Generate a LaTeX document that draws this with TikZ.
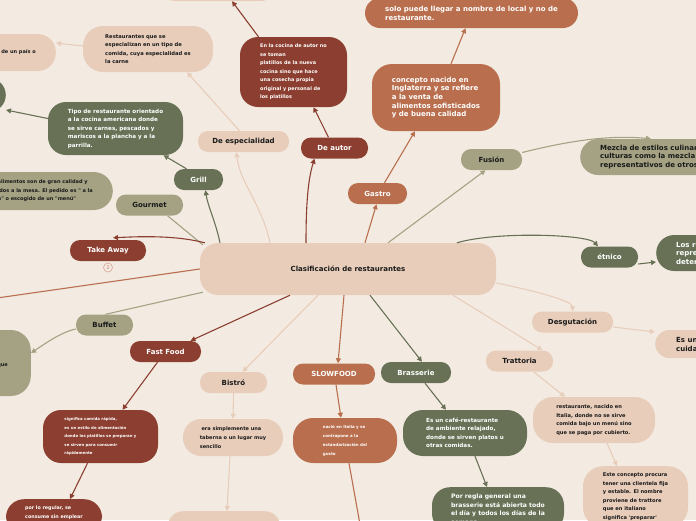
\documentclass[tikz,border=0pt]{standalone}
\usepackage{fontspec}
\newfontfamily\dv{DejaVu Sans}
\usetikzlibrary{arrows.meta}
\definecolor{cbg}{HTML}{F3EBE2}
\definecolor{cbeige}{HTML}{E7CDBA}
\definecolor{cdred}{HTML}{8C3F30}
\definecolor{cterra}{HTML}{B96F4E}
\definecolor{colive}{HTML}{687155}
\definecolor{ckhaki}{HTML}{A4A283}
\definecolor{ctxt}{HTML}{1A1A1A}
\definecolor{cbadge}{HTML}{D8A592}
\newcommand\myfs[2]{\dv\bfseries\fontsize{#1}{#2}\selectfont}
\tikzset{
  topic/.style={rounded corners=10pt, inner sep=0pt, minimum height=21pt, align=center, font=\myfs{7}{8.5}},
  desc/.style={inner sep=0pt, align=left},
  lnk/.style={line width=1.1pt, -{Triangle[length=5pt,width=5pt]}},
  lnkn/.style={line width=1.1pt},
}
\begin{document}
\begin{tikzpicture}[x=1pt,y=-1pt]
\fill[cbg] (0,0) rectangle (696,520);
\useasboundingbox (0,0) rectangle (696,520);
\clip (0,0) rectangle (696,520);

% central
\node[topic, fill=cbeige, text=ctxt, minimum width=296pt, minimum height=52pt, rounded corners=18pt] (central) at (348,269) {Clasificación de restaurantes};

% topics
\node[topic, fill=cbeige, text=ctxt, minimum width=91pt] (esp) at (243.5,141.5) {De especialidad};
\node[topic, fill=cdred, text=white, minimum width=67pt] (autor) at (334.5,148) {De autor};
\node[topic, fill=cterra, text=white, minimum width=59pt] (gastro) at (377.5,193.5) {Gastro};
\node[topic, fill=ckhaki, text=ctxt, minimum width=61pt] (fusion) at (491.5,159.5) {Fusión};
\node[topic, fill=colive, text=white, minimum width=49pt] (grill) at (198.5,179.5) {Grill};
\node[topic, fill=ckhaki, text=ctxt, minimum width=67pt] (gourmet) at (149.5,205) {Gourmet};
\node[topic, fill=cdred, text=white, minimum width=76pt] (takeaway) at (108,250.5) {Take Away};
\node[topic, fill=colive, text=white, minimum width=57pt] (etnico) at (609.5,257) {étnico};
\node[topic, fill=cbeige, text=ctxt, minimum width=81pt] (desgu) at (572.5,322) {Desgutación};
\node[topic, fill=cbeige, text=ctxt, minimum width=67pt] (tratt) at (519.5,361) {Trattoria};
\node[topic, fill=ckhaki, text=ctxt, minimum width=57pt] (buffet) at (104.5,325) {Buffet};
\node[topic, fill=cdred, text=white, minimum width=71pt] (fastfood) at (165.5,351.5) {Fast Food};
\node[topic, fill=cbeige, text=ctxt, minimum width=67pt] (bistro) at (233.5,382.5) {Bistró};
\node[topic, fill=cterra, text=white, minimum width=82pt] (slow) at (334,374) {SLOWFOOD};
\node[topic, fill=colive, text=white, minimum width=70pt] (brass) at (416,372.5) {Brasserie};

% descriptions
\node[desc, fill=cbeige, minimum width=117pt, minimum height=32pt, rounded corners=16pt] (dtop) at (218,-15) {};
\node[desc, fill=cbeige, text=ctxt, minimum width=130pt, minimum height=46pt, rounded corners=20pt, font=\myfs{5.2}{8.5}] (d1) at (148,49) {Restaurantes que se\\especializan en un tipo de\\comida, cuya especialidad es\\la carne};
\node[desc, fill=cbeige, text=ctxt, anchor=east, inner xsep=20pt, minimum height=37pt, rounded corners=18pt, font=\myfs{5}{8.5}] (d0) at (56,52.5) {de un país o};
\node[desc, fill=cdred, text=white, minimum width=107pt, minimum height=70pt, rounded corners=18pt, font=\myfs{4.9}{8.5}] (dautor) at (293.5,72) {En la cocina de autor no\\se toman\\platillos de la nueva\\cocina sino que hace\\una cosecha propia\\original y personal de\\los platillos};
\node[desc, fill=cterra, text=white, minimum width=213pt, minimum height=30pt, rounded corners=15pt, font=\myfs{7}{9}] (gtop) at (471.5,13) {solo puede llegar a nombre de local y no de\\restaurante.};
\node[desc, fill=cterra, text=white, minimum width=128pt, minimum height=67pt, rounded corners=20pt, font=\myfs{7}{8.7}] (dgastro) at (436,97.5) {concepto nacido en\\Inglaterra y se refiere\\a la venta de\\alimentos sofisticados\\y de buena calidad};
\node[desc, fill=ckhaki, text=ctxt, anchor=west, inner xsep=20pt, minimum height=36pt, rounded corners=18pt, font=\myfs{7}{8.5}] (dfusion) at (580,157) {Mezcla de estilos culinarios de diferentes\\culturas como la mezcla de ingredientes\\representativos de otros países};
\node[desc, fill=colive, text=white, anchor=west, inner xsep=20pt, minimum height=36pt, rounded corners=18pt, font=\myfs{7}{8.5}] (detnico) at (656,253) {Los restaurantes\\representan\\determinada cultura};
\node[desc, fill=cbeige, text=ctxt, anchor=west, inner xsep=21pt, minimum height=28pt, rounded corners=14pt, font=\myfs{7}{9}] (ddesgu) at (655,344) {Es un menú\\cuidadosamente};
\node[desc, fill=colive, text=white, minimum width=135pt, minimum height=53pt, rounded corners=18pt, font=\myfs{5.6}{8.5}] (dgrill) at (115.5,128.5) {Tipo de restaurante orientado\\a la cocina americana donde\\se sirve carnes, pescados y\\mariscos a la plancha y a la\\parrilla.};
\node[desc, fill=colive, anchor=east, minimum width=40pt, minimum height=34pt, rounded corners=17pt] (dgrillL) at (6,95) {};
\node[desc, fill=ckhaki, text=ctxt, anchor=east, inner xsep=20pt, minimum height=38pt, rounded corners=19pt, font=\myfs{5}{8.5}] (dgourmet) at (113,191) {alimentos son de gran calidad y\\idos a la mesa. El pedido es " a la\\n" o escogido de un "menú"};
\node[desc, fill=ckhaki, text=ctxt, anchor=east, inner xsep=23pt, minimum height=66pt, rounded corners=20pt, font=\myfs{5}{8.5}] (dbuffet) at (31,363) {\mbox{}\\que};
\node[desc, fill=cdred, text=white, minimum width=115pt, minimum height=53pt, rounded corners=18pt, font=\myfs{3.9}{8.5}] (dff) at (100.5,436.5) {significa comida rápida,\\es un estilo de alimentación\\donde los platillos se preparan y\\se sirven para consumir\\rápidamente};
\node[desc, fill=cdred, text=white, anchor=north, minimum width=96pt, inner ysep=7pt, rounded corners=18pt, font=\myfs{4.8}{8.5}] (dff2) at (54,499) {por lo regular, se\\consume sin emplear\\cubiertos.};
\node[desc, fill=cbeige, text=ctxt, minimum width=100pt, minimum height=37pt, rounded corners=18pt, font=\myfs{5}{8.7}] (dbistro) at (233,437.5) {\ era simplemente una\\taberna o un lugar muy\\sencillo};
\node[desc, fill=cbeige, anchor=north, minimum width=112pt, minimum height=30pt, rounded corners=15pt] (dbistro2) at (224,511) {};
\node[desc, fill=cterra, text=white, minimum width=104pt, minimum height=45pt, rounded corners=20pt, font=\myfs{4}{9}] (dslow) at (345,440.5) {nació en Italia y se\\contrapone a la\\estandarización del\\gusto};
\node[desc, fill=colive, text=white, minimum width=124pt, minimum height=46pt, rounded corners=20pt, font=\myfs{5.6}{8.5}] (dbras) at (465,433) {Es un café-restaurante\\de ambiente relajado,\\donde se sirven platos u\\otras comidas.};
\node[desc, fill=colive, text=white, anchor=north, minimum width=132pt, inner ysep=7pt, rounded corners=18pt, font=\myfs{6.1}{8.5}] (dbras2) at (498,487) {Por regla general una\\brasserie está abierta todo\\el día y todos los días de la\\semana.};
\node[desc, fill=cbeige, text=ctxt, minimum width=122pt, minimum height=46pt, rounded corners=20pt, font=\myfs{5.1}{8.5}] (dtratt) at (594,420) {restaurante, nacido en\\Italia, donde no se sirve\\comida bajo un menú sino\\que se paga por cubierto.};
\node[desc, fill=cbeige, text=ctxt, anchor=north, minimum width=105pt, inner ysep=7pt, rounded corners=20pt, font=\myfs{5.1}{8.5}] (dtratt2) at (635.5,466) {Este concepto procura\\tener una clientela fija\\y estable. El nombre\\proviene de trattore\\que en italiano\\significa 'preparar'};

\coordinate (slowend) at (361,530);
\coordinate (leftend) at (-10,299);

% badge
\node[circle, draw=cbadge, line width=0.6pt, minimum size=9pt, inner sep=0pt, text=cbadge, font=\myfs{5}{6}] (badge) at (108,267.5) {2};

% connectors
\draw[lnk, cbeige] ([xshift=-78pt]central.north) .. controls (262,205) and (239.5,182) .. ([xshift=-7pt]esp.south);
\draw[lnk, cbeige] ([xshift=-4pt]esp.north) -- ([xshift=39pt]d1.south);
\draw[lnk, cbeige] ([yshift=3pt]d1.west) -- ([yshift=9.5pt]d0.east);
\draw[lnk, cdred] ([xshift=-42pt]central.north) .. controls (306,200) and (308.5,178) .. ([xshift=-20pt]autor.south);
\draw[lnk, cdred] ([xshift=-6pt]autor.north) -- ([xshift=20pt]dautor.south);
\draw[lnk, cdred] ([xshift=-35pt]dautor.north) -- ([xshift=14pt]dtop.south);
\draw[lnk, cterra] ([xshift=17pt]central.north) -- ([xshift=-1pt]gastro.south);
\draw[lnk, cterra] ([xshift=7pt]gastro.north) -- ([xshift=-21pt]dgastro.south);
\draw[lnk, cterra] ([xshift=15pt]dgastro.north) -- ([xshift=-6pt]gtop.south);
\draw[lnk, ckhaki] ([xshift=40pt]central.north) -- ([xshift=-6pt]fusion.south);
\draw[lnk, ckhaki] ([yshift=7pt]fusion.east) .. controls (572,140) and (611,135) .. ([xshift=71pt]dfusion.north west);
\draw[lnk, colive] ([xshift=109pt]central.north) .. controls (497,231) and (588,234.5) .. ([xshift=-11.5pt]etnico.north);
\draw[lnk, colive] ([yshift=-7pt]etnico.east) -- ([yshift=-9pt]detnico.west);
\draw[lnk, cbeige] ([yshift=-14pt]central.east) .. controls (536,291) and (572.5,301) .. (desgu.north);
\draw[lnk, cbeige] ([yshift=-5pt]desgu.east) -- ([yshift=12pt]ddesgu.west);
\draw[lnk, cbeige] ([xshift=105pt]central.south) -- ([xshift=23pt]tratt.north);
\draw[lnk, cbeige] ([xshift=14pt]tratt.south) -- ([xshift=-29pt]dtratt.north);
\draw[lnk, cbeige] ([xshift=13pt]dtratt.south) -- ([xshift=-18.5pt]dtratt2.north);
\draw[lnk, colive] ([xshift=22pt]central.south) -- ([xshift=6pt]brass.north);
\draw[lnk, colive] ([xshift=9pt]brass.south) -- ([xshift=-19pt]dbras.north);
\draw[lnk, colive] ([xshift=10pt]dbras.south) -- ([xshift=-11pt]dbras2.north);
\draw[lnk, cterra] ([xshift=-4pt]central.south) -- ([xshift=4pt]slow.north);
\draw[lnk, cterra] ([xshift=2pt]slow.south) -- ([xshift=-4pt]dslow.north);
\draw[lnkn, cterra] ([xshift=4pt]dslow.south) -- (slowend);
\draw[lnk, cbeige] ([xshift=-30pt]central.south) -- ([xshift=9pt]bistro.north);
\draw[lnk, cbeige] (bistro.south) -- (dbistro.north);
\draw[lnk, cbeige] ([xshift=-3pt]dbistro.south) -- ([xshift=3pt]dbistro2.north);
\draw[lnk, cdred] ([xshift=-58pt]central.south) -- ([xshift=25pt]fastfood.north);
\draw[lnk, cdred] ([xshift=-8pt]fastfood.south) -- ([xshift=22pt]dff.north);
\draw[lnk, cdred] ([xshift=-13pt]dff.south) -- ([xshift=16pt]dff2.north);
\draw[lnkn, ckhaki] ([xshift=3pt,yshift=3pt]central.south west) -- ([xshift=1pt]buffet.north);
\draw[lnk, ckhaki] ([yshift=-4pt]buffet.west) .. controls (61,332) and (43,345) .. ([yshift=10pt]dbuffet.east);
\draw[lnk, colive] ([xshift=-128pt]central.north) .. controls (216,223) and (207.5,205) .. ([xshift=7pt]grill.south);
\draw[lnk, colive] ([xshift=-12pt]grill.north) -- ([xshift=48pt]dgrill.south);
\draw[lnk, colive] ([yshift=10pt]dgrill.west) -- ([yshift=-15pt]dgrillL.east);
\draw[lnkn, ckhaki] ([xshift=3pt,yshift=-2pt]central.north west) -- ([xshift=18pt]gourmet.south);
\draw[lnk, cdred] ([xshift=5pt]central.north west) .. controls (175,235) and (138,236.5) .. ([xshift=5pt,yshift=2pt]takeaway.north);
\draw[lnkn, cterra] (central.west) -- (leftend);
\end{tikzpicture}
\end{document}
